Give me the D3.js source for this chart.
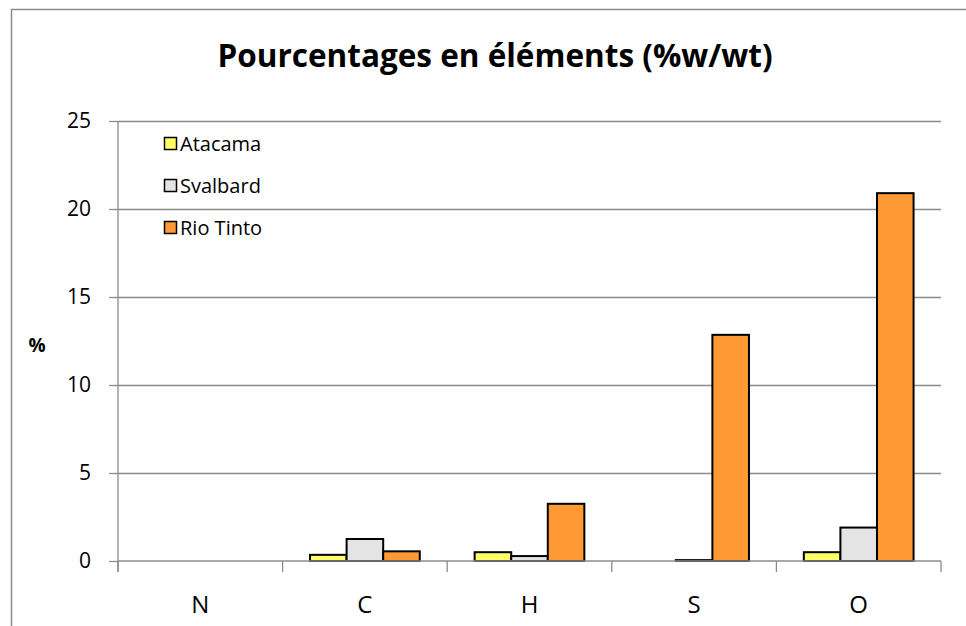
<!DOCTYPE html>
<html>
<head>
<meta charset="utf-8">
<script src="https://cdn.jsdelivr.net/npm/d3@7"></script>
<style>
  html, body { margin: 0; padding: 0; background: #fff; }
  svg { display: block; font-family: "Open Sans", "Noto Sans", sans-serif; }
</style>
</head>
<body>
<svg id="chart" width="966" height="626"></svg>
<script>
// Element categories and percentage values per site
const categories = ["N", "C", "H", "S", "O"];
const seriesNames = ["Atacama", "Svalbard", "Rio Tinto"];
const atacama = [0, 0.35, 0.5, 0, 0.5];
const svalbard = [0, 1.25, 0.28, 0.05, 1.9];
const rioTinto = [0, 0.55, 3.25, 12.85, 20.9];
const yTicks = [0, 5, 10, 15, 20, 25];
const colors = ["#FFFF66", "#E4E4E4", "#FF9933"];

const series = [atacama, svalbard, rioTinto];

const svg = d3.select("#chart");
const margin = { left: 118, right: 25, top: 121, bottom: 65 };
const W = 966, H = 626;
const font = "'Open Sans', 'Noto Sans', sans-serif";

const x = d3.scaleBand().domain(categories)
  .range([margin.left, W - margin.right]).paddingInner(0).paddingOuter(0);
const inner = d3.scaleBand().domain(seriesNames)
  .range([0, x.bandwidth()]).paddingOuter(0.75).paddingInner(0);
const y = d3.scaleLinear().domain([0, 25]).range([H - margin.bottom, margin.top]);

// outer chart frame
svg.append("path")
  .attr("d", `M11.5,${H + 5} V9.5 H${W + 5}`)
  .attr("fill", "none").attr("stroke", "#8a8a8a").attr("stroke-width", 1.5);

// horizontal gridlines
svg.append("g").selectAll("line").data(yTicks.filter(d => d > 0)).join("line")
  .attr("x1", margin.left).attr("x2", W - margin.right)
  .attr("y1", d => Math.round(y(d)) + 0.5).attr("y2", d => Math.round(y(d)) + 0.5)
  .attr("stroke", "#8c8c8c").attr("stroke-width", 1.3);

// y axis
const yAxis = svg.append("g")
  .attr("transform", `translate(${margin.left},0)`)
  .call(d3.axisLeft(y).tickValues(yTicks).tickSize(9).tickPadding(18).tickFormat(d3.format("d")));
yAxis.attr("font-size", null).attr("font-family", null);
yAxis.select(".domain").attr("stroke", "#8c8c8c").attr("stroke-width", 1.3)
  .attr("d", `M0,${y(25)}V${y(0) + 11}`);
yAxis.selectAll(".tick line").attr("stroke", "#8c8c8c").attr("stroke-width", 1.3);
yAxis.selectAll(".tick text").style("font-size", "21px").attr("fill", "#000")
  .style("font-family", font);

// bars
const groups = svg.append("g").selectAll("g").data(categories).join("g")
  .attr("transform", d => `translate(${x(d)},0)`);
groups.selectAll("rect")
  .data((c, i) => series.map((s, k) => ({ name: seriesNames[k], value: s[i], k })).filter(d => d.value > 0))
  .join("rect")
  .attr("x", d => inner(d.name))
  .attr("width", inner.bandwidth())
  .attr("y", d => y(d.value))
  .attr("height", d => y(0) - y(d.value))
  .attr("fill", d => colors[d.k])
  .attr("stroke", "#000").attr("stroke-width", 2);

// x axis
const xAxis = svg.append("g")
  .attr("transform", `translate(0,${y(0)})`)
  .call(d3.axisBottom(x).tickSize(0).tickPadding(35));
xAxis.attr("font-size", null).attr("font-family", null);
xAxis.select(".domain").attr("stroke", "#8c8c8c").attr("stroke-width", 1.5)
  .attr("d", `M${margin.left},0H${W - margin.right}`);
xAxis.selectAll(".tick text").style("font-size", "24px").attr("fill", "#000")
  .style("font-family", font);
const bounds = categories.map(c => x(c)).concat([x(categories[categories.length - 1]) + x.bandwidth()]);
xAxis.append("g").selectAll("line").data(bounds).join("line")
  .attr("x1", d => d).attr("x2", d => d).attr("y1", 0).attr("y2", 11)
  .attr("stroke", "#8c8c8c").attr("stroke-width", 1.3);

// title
svg.append("text")
  .attr("x", 495).attr("y", 67)
  .attr("text-anchor", "middle")
  .attr("font-size", 31.5).attr("font-weight", "bold")
  .text("Pourcentages en éléments (%w/wt)");

// y axis label
svg.append("text")
  .attr("x", 37).attr("y", 352)
  .attr("text-anchor", "middle")
  .attr("font-size", 19).attr("font-weight", "bold")
  .text("%");

// legend
const legend = svg.append("g").attr("transform", "translate(164,143)");
const items = legend.selectAll("g").data(seriesNames).join("g")
  .attr("transform", (d, i) => `translate(0,${i * 42})`);
items.append("rect")
  .attr("x", 0.5).attr("y", -5.5).attr("width", 12).attr("height", 12)
  .attr("fill", (d, i) => colors[i]).attr("stroke", "#000").attr("stroke-width", 1.5);
items.append("text")
  .attr("x", 16).attr("y", 7.5)
  .attr("font-size", 20)
  .text(d => d);
</script>
</body>
</html>
